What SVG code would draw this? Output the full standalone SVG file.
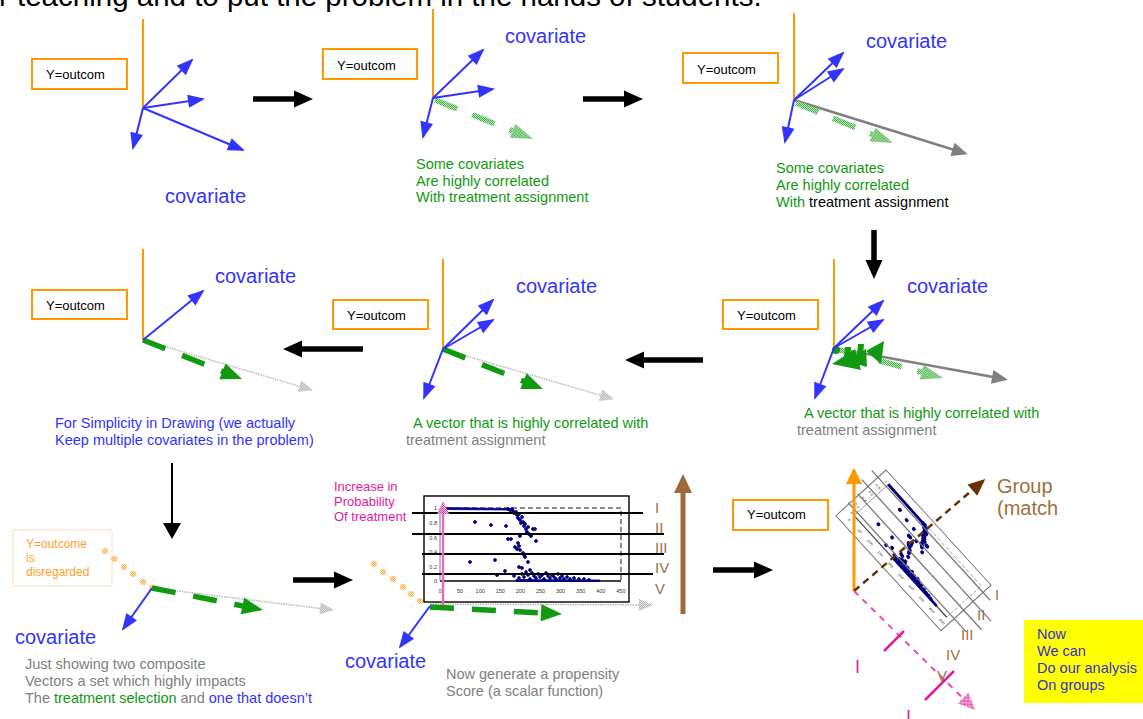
<svg xmlns="http://www.w3.org/2000/svg" xmlns:xlink="http://www.w3.org/1999/xlink" width="1143" height="719" viewBox="0 0 1143 719">
<style>
text{font-family:"Liberation Sans",Arial,Helvetica,sans-serif}
.yt{font-size:13px;fill:#000}
.ybox{fill:#fff;stroke:#ff9900;stroke-width:2}
.ax{stroke:#ff9900;stroke-width:2}
.cov{font-size:20px;fill:#3333ff}
.t{font-size:14.5px}
.gn{fill:#119911}
.gy{fill:#808080}
.bl{fill:#3333ff}
.bk{fill:#000}
.vb{stroke:#3333ff;stroke-width:2;marker-end:url(#mBlue)}
.vgr{stroke:#808080;stroke-width:2.5;marker-end:url(#mGray)}
.vdot{stroke:#b8b8b8;stroke-width:1.5;stroke-dasharray:1.5 1;marker-end:url(#mDot)}
.vgd{stroke:#119911;stroke-width:5.5;stroke-dasharray:24 18;marker-end:url(#mGreen)}
.vlg{stroke:url(#pG);stroke-width:5.5;stroke-dasharray:24 16;marker-end:url(#mLG)}
.blk{stroke:#000;stroke-width:5.5;marker-end:url(#mBlk)}
.rom{font-size:15px;fill:#a0703c}
.oc{fill:url(#pO)}
</style>
<defs>
<pattern id="pG" width="2" height="2" patternUnits="userSpaceOnUse"><rect width="2" height="2" fill="#c4eac4"/><rect width="1" height="1" fill="#3fae3f"/><rect x="1" y="1" width="1" height="1" fill="#3fae3f"/></pattern>
<pattern id="pGr" width="2" height="2" patternUnits="userSpaceOnUse"><rect width="2" height="2" fill="#eeeeee"/><rect width="1" height="1" fill="#a8a8a8"/><rect x="1" y="1" width="1" height="1" fill="#a8a8a8"/></pattern>
<pattern id="pP" width="2" height="2" patternUnits="userSpaceOnUse"><rect width="2" height="2" fill="#f8c4e6"/><rect width="1" height="1" fill="#e040a8"/><rect x="1" y="1" width="1" height="1" fill="#e040a8"/></pattern>
<pattern id="pO" width="2" height="2" patternUnits="userSpaceOnUse"><rect width="2" height="2" fill="#ffe4c0"/><rect width="1" height="1" fill="#ffa840"/><rect x="1" y="1" width="1" height="1" fill="#ffa840"/></pattern>
<marker id="mBlue" markerUnits="userSpaceOnUse" markerWidth="18" markerHeight="14" refX="15" refY="0" orient="auto" overflow="visible"><path d="M0,-6.5 L17,0 L0,6.5 z" fill="#3333ff"/></marker>
<marker id="mGray" markerUnits="userSpaceOnUse" markerWidth="18" markerHeight="14" refX="12" refY="0" orient="auto" overflow="visible"><path d="M0,-7 L16,0 L0,7 z" fill="#808080"/></marker>
<marker id="mDot" markerUnits="userSpaceOnUse" markerWidth="16" markerHeight="12" refX="13" refY="0" orient="auto" overflow="visible"><path d="M0,-6 L14,0 L0,6 z" fill="url(#pGr)"/></marker>
<marker id="mGreen" markerUnits="userSpaceOnUse" markerWidth="20" markerHeight="18" refX="0" refY="0" orient="auto" overflow="visible"><path d="M-1,-8.5 L20,0 L-1,8.5 z" fill="#119911"/></marker>
<marker id="mLG" markerUnits="userSpaceOnUse" markerWidth="22" markerHeight="16" refX="0" refY="0" orient="auto" overflow="visible"><path d="M0,-7.5 L22,0 L0,7.5 z" fill="url(#pG)"/></marker>
<marker id="mBlk" markerUnits="userSpaceOnUse" markerWidth="18" markerHeight="18" refX="0" refY="0" orient="auto" overflow="visible"><path d="M-1,-8.5 L18,0 L-1,8.5 z" fill="#000"/></marker>
<marker id="mBlkThin" markerUnits="userSpaceOnUse" markerWidth="16" markerHeight="18" refX="0" refY="0" orient="auto" overflow="visible"><path d="M0,-9 L16,0 L0,9 z" fill="#000"/></marker>
<marker id="mBrown" markerUnits="userSpaceOnUse" markerWidth="18" markerHeight="18" refX="0" refY="0" orient="auto" overflow="visible"><path d="M-1,-9 L18,0 L-1,9 z" fill="#a0693a"/></marker>
<marker id="mBrownD" markerUnits="userSpaceOnUse" markerWidth="18" markerHeight="16" refX="14" refY="0" orient="auto" overflow="visible"><path d="M0,-7.5 L17,0 L0,7.5 z" fill="#663300"/></marker>
<marker id="mOr" markerUnits="userSpaceOnUse" markerWidth="18" markerHeight="16" refX="14" refY="0" orient="auto" overflow="visible"><path d="M0,-8 L16,0 L0,8 z" fill="#ff9900"/></marker>
<marker id="mPink" markerUnits="userSpaceOnUse" markerWidth="18" markerHeight="16" refX="14" refY="0" orient="auto" overflow="visible"><path d="M0,-7.5 L17,0 L0,7.5 z" fill="url(#pP)"/></marker>
<marker id="mPinkS" markerUnits="userSpaceOnUse" markerWidth="14" markerHeight="14" refX="11" refY="0" orient="auto" overflow="visible"><path d="M0,-6 L13,0 L0,6 z" fill="url(#pP)"/></marker>
<g id="chart">
<rect x="0" y="0" width="205" height="106" fill="#fff" stroke="currentColor" stroke-width="1.4"/>
<path d="M16,12 H197 V85" fill="none" stroke="currentColor" stroke-width="0.9" stroke-dasharray="5 3"/>
<line x1="16" y1="12" x2="16" y2="85" stroke="#555" stroke-width="0.8"/>
<line x1="16" y1="85" x2="197" y2="85" stroke="#444" stroke-width="1.8"/>
<g font-size="5.5" fill="#333" text-anchor="end">
<text x="13" y="14">1</text><text x="13" y="29">0.8</text><text x="13" y="44">0.6</text><text x="13" y="58">0.4</text><text x="13" y="73">0.2</text><text x="13" y="87">0</text>
</g>
<g font-size="5.5" fill="#333" text-anchor="middle">
<text x="16" y="97">0</text><text x="36.1" y="97">50</text><text x="56.2" y="97">100</text><text x="76.3" y="97">150</text><text x="96.4" y="97">200</text><text x="116.5" y="97">250</text><text x="136.6" y="97">300</text><text x="156.7" y="97">350</text><text x="176.8" y="97">400</text><text x="196.9" y="97">450</text>
</g>
<g fill="#000080" stroke="#000080">
<path d="M17,11.5 L84,12.5 L84,14 L17,13.5 z"/>
<path d="M92,83.5 L176,84 L176,85.5 L92,85.5 z"/>
<circle cx="84" cy="13" r="1.5"/><circle cx="86" cy="14" r="1.5"/><circle cx="88" cy="13" r="1.5"/><circle cx="89" cy="15" r="1.5"/><circle cx="90" cy="17" r="1.5"/><circle cx="92" cy="16" r="1.5"/><circle cx="93" cy="19" r="1.5"/><circle cx="94" cy="22" r="1.5"/><circle cx="95" cy="18" r="1.5"/><circle cx="96" cy="24" r="1.5"/><circle cx="97" cy="27" r="1.5"/><circle cx="98" cy="21" r="1.5"/><circle cx="99" cy="26" r="1.5"/><circle cx="100" cy="30" r="1.5"/><circle cx="101" cy="28" r="1.5"/><circle cx="102" cy="33" r="1.5"/><circle cx="103" cy="36" r="1.5"/><circle cx="104" cy="31" r="1.5"/><circle cx="105" cy="38" r="1.5"/><circle cx="107" cy="40" r="1.5"/>
<circle cx="51" cy="26" r="1.5"/><circle cx="67" cy="29" r="1.5"/><circle cx="82" cy="30" r="1.5"/><circle cx="46" cy="66" r="1.5"/><circle cx="71" cy="64" r="1.5"/><circle cx="73" cy="79" r="1.5"/><circle cx="81" cy="75" r="1.5"/><circle cx="84" cy="43" r="1.5"/><circle cx="87" cy="43" r="1.5"/><circle cx="91" cy="51" r="1.5"/><circle cx="93" cy="53" r="1.5"/><circle cx="95" cy="50" r="1.5"/><circle cx="96" cy="54" r="1.5"/><circle cx="94" cy="47" r="1.5"/><circle cx="96" cy="40" r="1.5"/><circle cx="99" cy="57" r="1.5"/><circle cx="101" cy="61" r="1.5"/><circle cx="100" cy="59" r="1.5"/><circle cx="103" cy="37" r="1.5"/><circle cx="109" cy="33" r="1.5"/><circle cx="111" cy="33" r="1.5"/><circle cx="112" cy="45" r="1.5"/><circle cx="95" cy="71" r="1.5"/><circle cx="98" cy="72" r="1.5"/><circle cx="104" cy="66" r="1.5"/><circle cx="106" cy="74" r="1.5"/>
<circle cx="90" cy="80" r="1.4"/><circle cx="95" cy="82" r="1.4"/><circle cx="98" cy="78" r="1.4"/><circle cx="100" cy="81" r="1.4"/><circle cx="102" cy="76" r="1.4"/><circle cx="104" cy="79" r="1.4"/><circle cx="106" cy="83" r="1.4"/><circle cx="108" cy="77" r="1.4"/><circle cx="110" cy="80" r="1.4"/><circle cx="112" cy="82" r="1.4"/><circle cx="114" cy="78" r="1.4"/><circle cx="116" cy="81" r="1.4"/><circle cx="118" cy="79" r="1.4"/><circle cx="120" cy="83" r="1.4"/><circle cx="122" cy="77" r="1.4"/><circle cx="124" cy="80" r="1.4"/><circle cx="126" cy="82" r="1.4"/><circle cx="128" cy="79" r="1.4"/><circle cx="130" cy="81" r="1.4"/><circle cx="132" cy="83" r="1.4"/><circle cx="134" cy="78" r="1.4"/><circle cx="136" cy="82" r="1.4"/><circle cx="138" cy="80" r="1.4"/><circle cx="140" cy="83" r="1.4"/><circle cx="143" cy="81" r="1.4"/><circle cx="146" cy="83" r="1.4"/><circle cx="150" cy="82" r="1.4"/><circle cx="155" cy="83" r="1.4"/><circle cx="160" cy="83" r="1.4"/><circle cx="165" cy="84" r="1.4"/>
</g>
<g stroke="currentColor" stroke-width="2">
<line x1="-12" y1="17" x2="219" y2="17"/>
<line x1="-12" y1="38" x2="240" y2="38"/>
<line x1="-2" y1="58" x2="240" y2="58"/>
<line x1="-2" y1="78" x2="229" y2="78"/>
</g>
</g>
</defs>
<rect width="1143" height="719" fill="#fff"/>
<text x="-1" y="6" font-size="29.5" fill="#000">r teaching and to put the problem in the hands of students.</text>

<g id="n-top-left">
<line class="ax" x1="143" y1="19" x2="143" y2="108"/>
<rect class="ybox" x="32" y="59" width="95" height="30"/>
<text class="yt" x="46" y="79">Y=outcom</text>
<line class="vb" x1="143" y1="108" x2="192" y2="60"/>
<line class="vb" x1="143" y1="108" x2="203" y2="99"/>
<line class="vb" x1="143" y1="108" x2="243" y2="150"/>
<line class="vb" x1="143" y1="108" x2="133" y2="148"/>
<text class="cov" x="165" y="203">covariate</text>
</g>

<g id="n-top-middle">
<line class="ax" x1="433" y1="9" x2="433" y2="98"/>
<rect class="ybox" x="323" y="49" width="94" height="30"/>
<text class="yt" x="337" y="70">Y=outcom</text>
<text class="cov" x="505" y="43">covariate</text>
<line class="vlg" x1="435" y1="100" x2="512.6" y2="130.9"/>
<line class="vb" x1="433" y1="98" x2="483" y2="50"/>
<line class="vb" x1="433" y1="98" x2="493" y2="89"/>
<line class="vb" x1="433" y1="98" x2="423" y2="137"/>
<text class="t gn" x="416" y="169">Some covariates</text>
<text class="t gn" x="416" y="186">Are highly correlated</text>
<text class="t gn" x="416" y="202">With treatment assignment</text>
</g>

<g id="n-top-right">
<line class="ax" x1="794" y1="13" x2="794" y2="100"/>
<rect class="ybox" x="683" y="53" width="95" height="30"/>
<text class="yt" x="697" y="74">Y=outcom</text>
<text class="cov" x="866" y="48">covariate</text>
<line class="vgr" x1="794" y1="100" x2="964" y2="153"/>
<line class="vlg" x1="796" y1="103" x2="872.6" y2="134.6"/>
<line class="vb" x1="794" y1="100" x2="843" y2="53"/>
<line class="vb" x1="794" y1="100" x2="843" y2="69"/>
<line class="vb" x1="794" y1="100" x2="785" y2="142"/>
<text class="t gn" x="776" y="173">Some covariates</text>
<text class="t gn" x="776" y="190">Are highly correlated</text>
<text class="t" x="776" y="207"><tspan class="gn">With </tspan><tspan class="bk">treatment assignment</tspan></text>
</g>

<g id="n-mid-right">
<line class="ax" x1="834" y1="259" x2="834" y2="348"/>
<rect class="ybox" x="723" y="300" width="95" height="29"/>
<text class="yt" x="737" y="320">Y=outcom</text>
<text class="cov" x="907" y="293">covariate</text>
<line class="vgr" x1="834" y1="348" x2="1004" y2="379"/>
<line class="vlg" x1="840" y1="350" x2="921.8" y2="372.2"/>
<g fill="#119911">
<circle cx="836" cy="350" r="4"/>
<polygon points="845,347 851,347 850,358 844,358"/>
<polygon points="858,344 864,344 863,355 857,355"/>
<polygon points="866,351 884,341 881,364"/>
<polygon points="832,364 855,349 861,370"/>
<polygon points="846,361 866,349 867,367"/>
</g>
<line class="vb" x1="834" y1="348" x2="883" y2="301"/>
<line class="vb" x1="834" y1="348" x2="883" y2="320"/>
<line class="vb" x1="834" y1="348" x2="815" y2="398"/>
<text class="t gn" x="804" y="418">A vector that is highly correlated with</text>
<text class="t gy" x="797" y="435">treatment assignment</text>
</g>

<g id="n-mid-center">
<line class="ax" x1="443" y1="259" x2="443" y2="349"/>
<rect class="ybox" x="333" y="300" width="95" height="29"/>
<text class="yt" x="347" y="320">Y=outcom</text>
<text class="cov" x="516" y="293">covariate</text>
<line class="vdot" x1="443" y1="349" x2="613" y2="399"/>
<line class="vgd" x1="443" y1="349" x2="524.4" y2="381.6"/>
<line class="vb" x1="443" y1="349" x2="493" y2="300"/>
<line class="vb" x1="443" y1="349" x2="493" y2="320"/>
<line class="vb" x1="443" y1="349" x2="424" y2="398"/>
<text class="t gn" x="413" y="428">A vector that is highly correlated with</text>
<text class="t gy" x="406" y="445">treatment assignment</text>
</g>

<g id="n-mid-left">
<line class="ax" x1="143" y1="249" x2="143" y2="340"/>
<rect class="ybox" x="32" y="290" width="95" height="29"/>
<text class="yt" x="46" y="310">Y=outcom</text>
<text class="cov" x="215" y="283">covariate</text>
<line class="vdot" x1="143" y1="340" x2="312" y2="390"/>
<line class="vgd" x1="143" y1="340" x2="223.4" y2="371.7"/>
<line class="vb" x1="143" y1="340" x2="203" y2="291"/>
<text class="t bl" x="55" y="428">For Simplicity in Drawing (we actually</text>
<text class="t bl" x="55" y="445">Keep multiple covariates in the problem)</text>
</g>

<g id="n-bottom-left">
<rect x="13" y="530" width="99" height="56" fill="none" stroke="#ffbf80" stroke-width="1" stroke-dasharray="1 1"/>
<g font-size="12" fill="#ff9f2a">
<text x="26" y="548">Y=outcome</text>
<text x="26" y="562">is</text>
<text x="26" y="576">disregarded</text>
</g>
<line x1="105" y1="551" x2="152" y2="588" stroke="#ffc890" stroke-width="1" stroke-dasharray="1 2"/>
<circle class="oc" cx="105" cy="551" r="3"/><circle class="oc" cx="114" cy="559" r="3"/><circle class="oc" cx="124" cy="567" r="3"/><circle class="oc" cx="133" cy="574" r="3"/><circle class="oc" cx="143" cy="582" r="3"/><circle class="oc" cx="152" cy="588" r="3"/>
<line class="vdot" x1="152" y1="588" x2="333" y2="610"/>
<line class="vgd" x1="152" y1="588" x2="243.4" y2="606.1"/>
<line class="vb" x1="152" y1="588" x2="123" y2="629"/>
<text class="cov" x="15" y="644">covariate</text>
<text class="t gy" x="25" y="669">Just showing two composite</text>
<text class="t gy" x="25" y="686">Vectors a set which highly impacts</text>
<text class="t gy" x="25" y="703">The <tspan class="gn">treatment selection</tspan> and <tspan class="bl">one that doesn’t</tspan></text>
</g>

<g id="n-bottom-middle">
<g font-size="13" fill="#e6199a">
<text x="334" y="491">Increase in</text>
<text x="334" y="506">Probability</text>
<text x="334" y="521">Of treatment</text>
</g>
<line x1="420" y1="601" x2="374" y2="564" stroke="#ffc890" stroke-width="1" stroke-dasharray="1 2"/>
<circle class="oc" cx="374" cy="564" r="3"/><circle class="oc" cx="383" cy="572" r="3"/><circle class="oc" cx="393" cy="579" r="3"/><circle class="oc" cx="403" cy="587" r="3"/><circle class="oc" cx="411" cy="594" r="3"/><circle class="oc" cx="420" cy="601" r="3"/>
<line class="vdot" x1="430" y1="604" x2="652" y2="605"/>
<use xlink:href="#chart" href="#chart" transform="translate(424,496)" color="#000" stroke-width="0.8"/>
<line x1="443" y1="605" x2="443" y2="503" stroke="#ee66bb" stroke-width="2.5" marker-end="url(#mPinkS)"/>
<line class="vgd" x1="430" y1="607" x2="542" y2="612.9"/>
<line class="vb" x1="430" y1="606" x2="400" y2="647"/>
<text class="rom" x="655" y="513">I</text>
<text class="rom" x="655" y="533">II</text>
<text class="rom" x="655" y="553">III</text>
<text class="rom" x="655" y="573">IV</text>
<text class="rom" x="655" y="594">V</text>
<text class="cov" x="345" y="668">covariate</text>
<text class="t gy" x="446" y="679">Now generate a propensity</text>
<text class="t gy" x="446" y="696">Score (a scalar function)</text>
</g>

<g id="n-brown-axis">
<line x1="683" y1="614" x2="683" y2="492" stroke="#a0693a" stroke-width="5" marker-end="url(#mBrown)"/>
</g>

<g id="n-bottom-right">
<rect class="ybox" x="733" y="500" width="95" height="30"/>
<text class="yt" x="747" y="519">Y=outcom</text>
<use xlink:href="#chart" href="#chart" transform="translate(886,470) rotate(47.6) scale(0.76,0.64)" color="#777" stroke-width="2.6"/>
<line x1="854" y1="591" x2="854" y2="470" stroke="#ff9900" stroke-width="3" marker-end="url(#mOr)"/>
<line x1="854" y1="591" x2="983" y2="481" stroke="#663300" stroke-width="2.5" stroke-dasharray="7 5" marker-end="url(#mBrownD)"/>
<line x1="854" y1="591" x2="973" y2="708" stroke="#e64cb4" stroke-width="2" stroke-dasharray="6 6" marker-end="url(#mPink)"/>
<g stroke="#e0209a" stroke-width="2.5">
<line x1="884" y1="651" x2="904" y2="631"/>
<line x1="925" y1="700" x2="954" y2="671"/>
</g>
<text class="rom" x="995" y="600">I</text>
<text class="rom" x="977" y="620">II</text>
<text class="rom" x="961" y="640">III</text>
<text class="rom" x="946" y="660">IV</text>
<text class="rom" x="937" y="681">V</text>
<text x="997" y="493" font-size="20" fill="#a0703c">Group</text>
<text x="997" y="515" font-size="20" fill="#a0703c">(match</text>
<text x="855" y="673" font-size="18" fill="#e0209a">I</text>
<text x="906" y="723" font-size="18" fill="#e0209a">I</text>
</g>

<g id="n-note">
<rect x="1024" y="620" width="119" height="83" fill="#ffff00"/>
<g font-size="14.5" fill="#3333cc">
<text x="1037" y="639">Now</text>
<text x="1037" y="656">We can</text>
<text x="1037" y="673">Do our analysis</text>
<text x="1037" y="690">On groups</text>
</g>
</g>

<g id="connectors">
<line class="blk" x1="253" y1="99" x2="295" y2="99"/>
<line class="blk" x1="583" y1="99" x2="625" y2="99"/>
<line class="blk" x1="874" y1="230" x2="874" y2="261"/>
<line class="blk" x1="703" y1="360" x2="643" y2="360"/>
<line class="blk" x1="363" y1="349" x2="301" y2="349"/>
<line x1="172" y1="463" x2="172" y2="523" stroke="#000" stroke-width="2" marker-end="url(#mBlkThin)"/>
<line class="blk" x1="293" y1="580" x2="335" y2="580"/>
<line class="blk" x1="713" y1="570" x2="755" y2="570"/>
</g>
</svg>
